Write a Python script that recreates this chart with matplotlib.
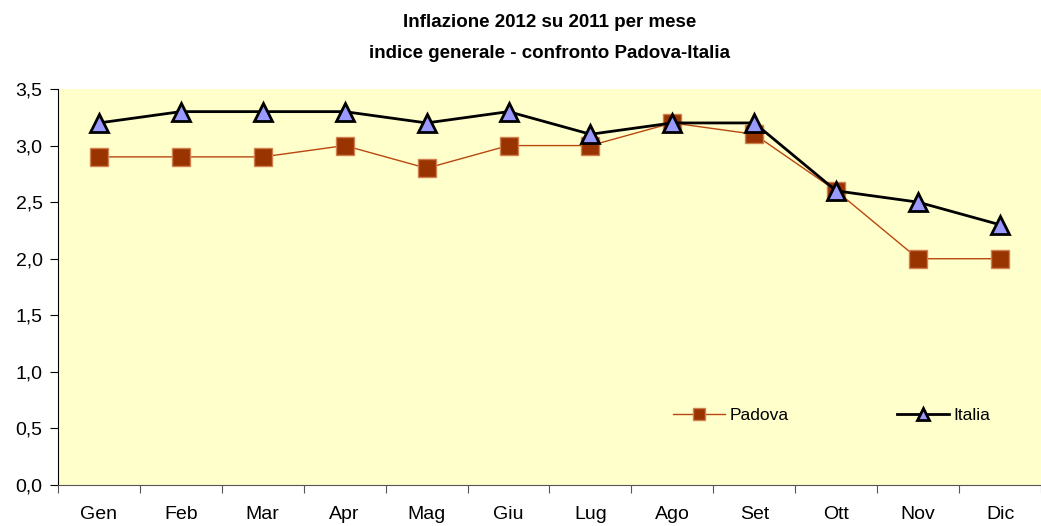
import numpy as np
import matplotlib.pyplot as plt
from matplotlib.ticker import FuncFormatter

mesi = ['Gen', 'Feb', 'Mar', 'Apr', 'Mag', 'Giu', 'Lug', 'Ago', 'Set', 'Ott', 'Nov', 'Dic']
padova = [2.9, 2.9, 2.9, 3.0, 2.8, 3.0, 3.0, 3.2, 3.1, 2.6, 2.0, 2.0]
italia = [3.2, 3.3, 3.3, 3.3, 3.2, 3.3, 3.1, 3.2, 3.2, 2.6, 2.5, 2.3]

plt.rcParams['font.family'] = ['Liberation Sans', 'DejaVu Sans']

fig = plt.figure(figsize=(10.41, 5.26), dpi=100)
ax = fig.add_axes([0.0557, 0.0779, 0.9443, 0.7529])
ax.set_facecolor('#FFFFCC')

x = np.arange(len(mesi))
ax.plot(x, padova, color='#B8470F', lw=1, marker='s', ms=12.5,
        mfc='#993300', mec='#D08050', mew=1, label='Padova', zorder=3)
ax.plot(x, italia, color='black', lw=2, marker='^', ms=13,
        mfc='#9999FF', mec='black', mew=2, label='Italia', zorder=4)

ax.set_xlim(-0.5, len(mesi) - 0.5)
ax.set_ylim(0, 3.5)
ax.set_yticks(np.arange(0, 3.51, 0.5))
ax.yaxis.set_major_formatter(FuncFormatter(lambda v, p: f'{v:.1f}'.replace('.', ',')))

# category boundaries get the ticks, labels sit in the middle
ax.set_xticks(np.arange(-0.5, len(mesi), 1.0))
ax.set_xticklabels([])
ax.set_xticks(x, minor=True)
ax.set_xticklabels(mesi, minor=True)
ax.tick_params(axis='x', which='minor', length=0, pad=15, labelsize=14)
ax.tick_params(axis='x', which='major', length=6, color='#555555', direction='out')
ax.tick_params(axis='y', length=6, labelsize=14, pad=5)

for s in ['top', 'right']:
    ax.spines[s].set_visible(False)
ax.spines['left'].set_color('black')
ax.spines['bottom'].set_color('#555555')

ax.legend(loc='center', bbox_to_anchor=(0.787, 0.175), ncol=2, frameon=False,
          fontsize=12.5, columnspacing=6.2, handlelength=3.0, handletextpad=0.25,
          markerscale=0.7)

ax.set_title('Inflazione 2012 su 2011 per mese\nindice generale - confronto Padova-Italia',
             pad=22, fontsize=13.5, fontweight='bold', linespacing=2.1)

fig.savefig('out.png', dpi=100)
